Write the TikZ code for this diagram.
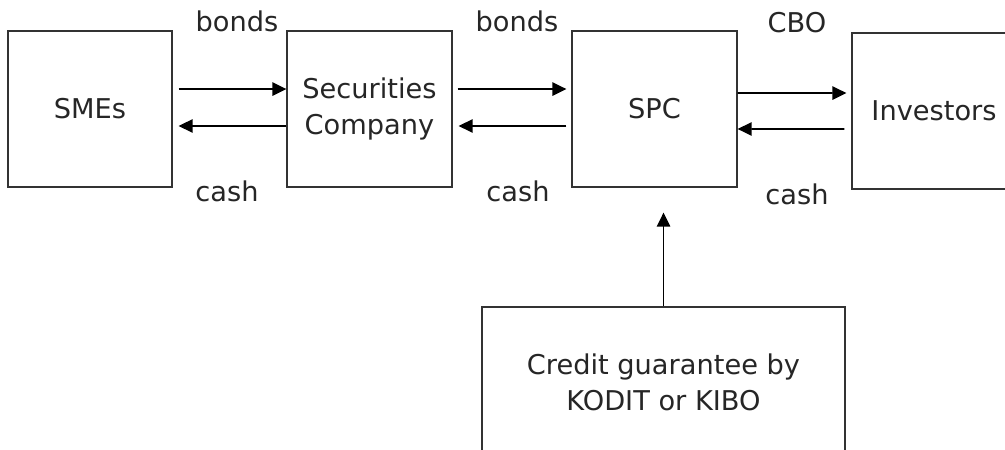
\documentclass[tikz,border=0pt]{standalone}
\usepackage{fontspec}
\setmainfont{DejaVu Sans}
\usetikzlibrary{arrows.meta, positioning, calc}
\tikzstyle{party} = [rectangle, draw=black!80, line width=0.8pt, minimum width=3.3cm, minimum height=3.12cm, align=center, inner sep=0pt, text=black!85]
\tikzstyle{flow} = [line width=0.9pt, -{Triangle[length=2.8mm,width=2.7mm]}]
\tikzstyle{lbl} = [text=black!85, inner sep=0pt]

\begin{document}
\begin{tikzpicture}[x=0.02cm, y=-0.02cm, font=\fontsize{15.5}{20.4}\selectfont]

% Page
\clip (0,0) rectangle (1005,450);
\fill[white] (0,0) rectangle (1005,450);

% Parties
\node[party, minimum width=3.28cm] (sme) at (90,109) {SMEs};
\node[party] (sec) at (369.5,109) {Securities\\Company};
\node[party] (spc) at (654.5,109) {SPC};
\node[party, minimum width=3.28cm] (inv) at (934,111) {Investors};
\node[party, minimum width=7.26cm, minimum height=3cm] (credit) at (663.5,382) {Credit guarantee by\\KODIT or KIBO};

% Flows
\draw[flow] ([xshift=0.12cm,yshift=0.4cm]sme.east) -- ([yshift=0.4cm]sec.west);
\draw[flow] ([yshift=-0.34cm]sec.west) -- ([xshift=0.12cm,yshift=-0.34cm]sme.east);
\draw[flow] ([xshift=0.1cm,yshift=0.4cm]sec.east) -- ([xshift=-0.1cm,yshift=0.4cm]spc.west);
\draw[flow] ([xshift=-0.1cm,yshift=-0.34cm]spc.west) -- ([xshift=0.12cm,yshift=-0.34cm]sec.east);
\draw[flow] ([yshift=0.32cm]spc.east) -- ([xshift=-0.1cm,yshift=0.36cm]inv.west);
\draw[flow] ([xshift=-0.14cm,yshift=-0.36cm]inv.west) -- ([yshift=-0.4cm]spc.east);
\draw[flow] (credit.north) -- ($(credit.north |- spc.south)+(0,-0.5cm)$);

% Labels
\node[lbl] (bonds1) at (237,21) {bonds};
\node[lbl] (cash1) at (227,191) {cash};
\node[lbl] (bonds2) at (517,21) {bonds};
\node[lbl] (cash2) at (518,191) {cash};
\node[lbl] (cbo) at (797,23) {CBO};
\node[lbl] (cash3) at (797,194) {cash};

\end{tikzpicture}
\end{document}
